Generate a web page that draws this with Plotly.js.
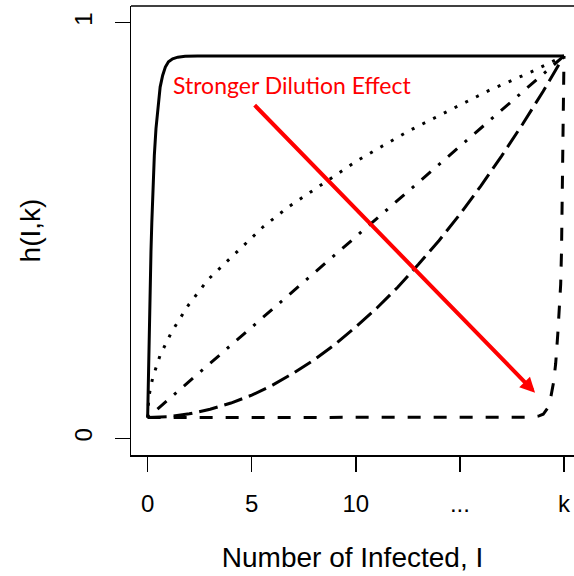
<!DOCTYPE html>
<html>
<head>
<meta charset="utf-8">
<script src="https://cdn.plot.ly/plotly-3.0.1.min.js"></script>
<style>html,body{margin:0;padding:0;background:#fff;}</style>
</head>
<body>
<div id="chart" style="width:574px;height:576px;"></div>
<script>
// ---- data ----
var xTickVals = [0, 5, 10, 15, 20];
var xTickText = ['0', '5', '10', '...', 'k'];
var yTickVals = [0, 1];
var yTickText = ['0', '1'];

// solid: very weak dilution (fast saturation)
var solidI = [0, 0.02, 0.04, 0.06, 0.09, 0.12, 0.16, 0.2, 0.25, 0.32, 0.4, 0.5, 0.6, 0.72, 0.85, 1.0, 1.2, 1.45, 1.8, 2.4, 20];
var solidH = [0.05, 0.11, 0.165, 0.215, 0.29, 0.36, 0.45, 0.52, 0.59, 0.68, 0.745, 0.805, 0.845, 0.873, 0.893, 0.906, 0.913, 0.917, 0.919, 0.92, 0.92];

// dotted: concave
var dottedI = [0, 0.02, 0.05, 0.12, 0.25, 0.6, 1.15, 1.95, 2.9, 4.3, 5.55, 6.8, 8.7, 10.1, 11.2, 12.6, 14.5, 16.4, 18.4, 20];
var dottedH = [0.05, 0.078, 0.094, 0.118, 0.147, 0.2, 0.256, 0.32, 0.382, 0.449, 0.509, 0.558, 0.621, 0.669, 0.701, 0.741, 0.789, 0.837, 0.881, 0.92];

// dot-dash: linear
var dotdashI = [0, 2.5, 5, 7.5, 10, 12.5, 15, 17.5, 20];
var dotdashH = [0.05, 0.159, 0.268, 0.376, 0.485, 0.594, 0.703, 0.811, 0.92];

// long dash: convex
var longdashI = [0, 1, 2, 3, 4, 5, 6, 7, 8, 9, 10, 11, 12, 13, 14, 15, 16, 17, 18, 19, 20];
var longdashH = [0.05, 0.052, 0.059, 0.07, 0.085, 0.104, 0.128, 0.157, 0.189, 0.226, 0.268, 0.313, 0.363, 0.418, 0.476, 0.539, 0.607, 0.679, 0.755, 0.835, 0.92];

// short dash: strongest dilution
var dashI = [0, 5, 10, 15, 17, 18, 18.5, 18.8, 19.0, 19.2, 19.35, 19.5, 19.6, 19.7, 19.8, 19.84, 19.88, 19.91, 19.94, 19.96, 19.98, 20];
var dashH = [0.05, 0.05, 0.05, 0.05, 0.05, 0.05, 0.051, 0.054, 0.058, 0.072, 0.095, 0.135, 0.18, 0.25, 0.33, 0.37, 0.45, 0.58, 0.7, 0.78, 0.85, 0.92];

var annoText = 'Stronger Dilution Effect';

function curve(xs, ys, dash) {
  return {x: xs, y: ys, type: 'scatter', mode: 'lines', hoverinfo: 'skip',
          line: {color: '#000000', width: 3, dash: dash}};
}

var traces = [
  curve(solidI, solidH, 'solid'),
  curve(dottedI, dottedH, '3px,9px'),
  curve(dotdashI, dotdashH, '3px,10px,12px,10px'),
  curve(longdashI, longdashH, '19px,7px'),
  curve(dashI, dashH, '13px,13px')
];

var axisFont = 'Liberation Sans, Arial, Helvetica, sans-serif';

var layout = {
  width: 574, height: 576,
  margin: {l: 131, r: 0, t: 6, b: 121, pad: 0},
  paper_bgcolor: '#ffffff', plot_bgcolor: '#ffffff',
  showlegend: false,
  font: {family: axisFont, color: '#000000'},
  xaxis: {
    range: [-0.8, 20.48], fixedrange: true,
    tickmode: 'array', tickvals: xTickVals, ticktext: xTickText,
    ticks: 'outside', ticklen: 15, tickwidth: 1.5, tickcolor: '#000000',
    showline: true, linewidth: 1.5, linecolor: '#000000',
    showgrid: false, zeroline: false,
    tickfont: {size: 24, family: axisFont},
    ticklabelstandoff: 12,
    automargin: false,
    title: {text: 'Number of Infected, I', font: {size: 28, family: axisFont}, standoff: 31}
  },
  yaxis: {
    range: [-0.04, 1.04], fixedrange: true,
    tickmode: 'array', tickvals: yTickVals, ticktext: yTickText,
    tickangle: -90,
    ticks: 'outside', ticklen: 15, tickwidth: 1.5, tickcolor: '#000000',
    showline: true, linewidth: 1.5, linecolor: '#000000',
    showgrid: false, zeroline: false,
    tickfont: {size: 24, family: axisFont},
    ticklabelstandoff: 13,
    automargin: false,
    title: {text: 'h(I,k)', font: {size: 28, family: axisFont}, standoff: 21}
  },
  shapes: [
    {type: 'line', xref: 'paper', yref: 'paper', x0: 0, x1: 1, y0: 1, y1: 1,
     line: {color: '#000000', width: 1.5}}
  ],
  annotations: [
    {text: annoText, xref: 'x', yref: 'y', x: 6.92, y: 0.849, showarrow: false,
     xanchor: 'center', yanchor: 'middle',
     font: {family: 'Lato, sans-serif', size: 23, color: '#ff0000'}},
    {text: '', xref: 'x', yref: 'y', x: 18.61, y: 0.11, axref: 'x', ayref: 'y',
     ax: 5.07, ay: 0.805, showarrow: true, arrowhead: 2, arrowsize: 0.75,
     arrowwidth: 4, arrowcolor: '#ff0000', standoff: 0}
  ]
};

Plotly.newPlot('chart', traces, layout, {staticPlot: true, displayModeBar: false});
</script>
</body>
</html>
